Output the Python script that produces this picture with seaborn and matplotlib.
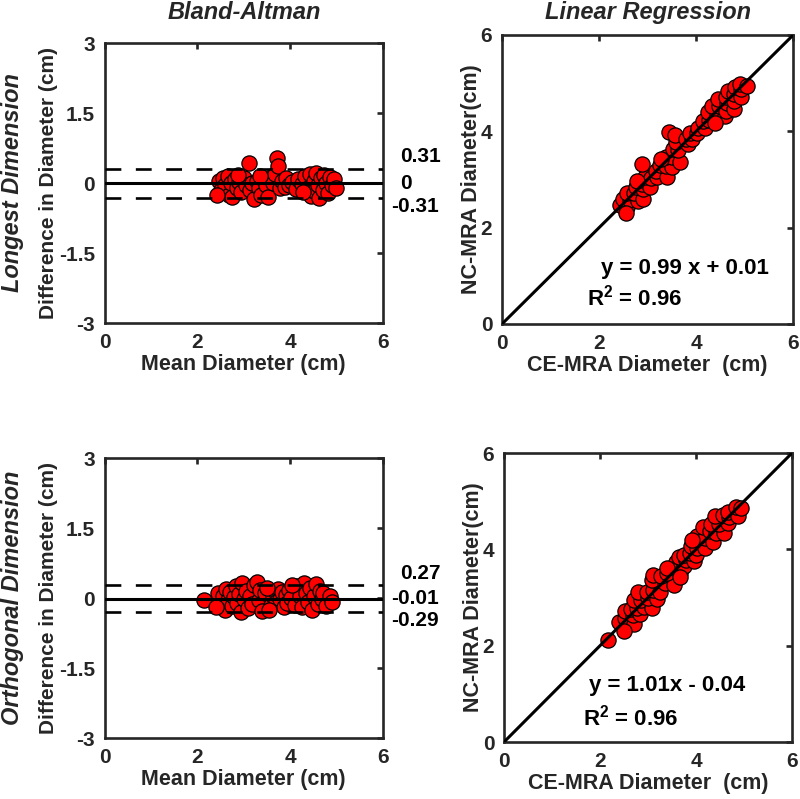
import numpy as np
import pandas as pd
import matplotlib
matplotlib.use("Agg")
import matplotlib.pyplot as plt
import seaborn as sns

# values (cm)
ce_long = [2.43, 2.58, 2.50, 2.63, 2.58, 2.81, 2.72, 2.90, 2.76, 2.90,
           2.89, 3.05, 2.95, 3.08, 2.89, 3.20, 3.18, 3.40, 3.26, 3.37,
           3.50, 3.38, 3.51, 3.67, 3.52, 3.62, 3.58, 3.45, 3.56, 3.83,
           3.80, 3.92, 3.87, 4.01, 4.04, 4.18, 4.14, 4.26, 4.25, 4.43,
           4.32, 4.59, 4.48, 4.61, 4.45, 4.63, 4.78, 4.61, 4.78, 4.65,
           4.78, 4.93, 4.80, 4.93, 4.91, 5.05, 2.55, 2.79, 3.28, 4.38]
nc_long = [2.48, 2.43, 2.60, 2.58, 2.73, 2.56, 2.72, 2.60, 2.84, 2.80,
           2.91, 2.85, 3.05, 3.03, 3.32, 3.05, 3.18, 3.05, 3.31, 3.27,
           3.25, 3.46, 3.46, 3.37, 3.64, 3.62, 3.78, 3.99, 3.93, 3.73,
           3.85, 3.84, 3.97, 3.96, 4.06, 4.06, 4.22, 4.24, 4.40, 4.33,
           4.52, 4.31, 4.53, 4.43, 4.67, 4.58, 4.46, 4.71, 4.63, 4.83,
           4.78, 4.71, 4.92, 4.88, 4.99, 4.95, 2.30, 2.97, 3.43, 4.18]

ce_orth = [2.17, 2.40, 2.56, 2.53, 2.71, 2.52, 2.69, 2.64, 2.83, 2.77,
           2.70, 2.91, 2.86, 3.08, 2.80, 3.01, 2.97, 3.19, 3.10, 3.24,
           3.08, 3.11, 3.35, 3.27, 3.54, 3.40, 3.66, 3.60, 3.59, 3.74,
           3.64, 3.79, 3.76, 3.96, 3.87, 3.99, 3.89, 4.02, 4.18, 4.03,
           4.18, 4.35, 4.14, 4.29, 4.42, 4.31, 4.59, 4.48, 4.40, 4.66,
           4.57, 4.69, 4.67, 4.87, 4.83, 4.94, 2.50, 3.39, 3.67, 3.91]
nc_orth = [2.12, 2.50, 2.44, 2.58, 2.46, 2.72, 2.64, 2.76, 2.65, 2.79,
           2.95, 2.81, 2.94, 2.78, 3.12, 2.99, 3.12, 2.97, 3.15, 3.12,
           3.36, 3.46, 3.30, 3.45, 3.26, 3.50, 3.51, 3.65, 3.74, 3.66,
           3.84, 3.77, 3.88, 3.76, 3.93, 3.89, 4.07, 4.02, 4.03, 4.28,
           4.23, 4.15, 4.46, 4.39, 4.34, 4.53, 4.34, 4.53, 4.70, 4.54,
           4.72, 4.67, 4.77, 4.69, 4.88, 4.86, 2.30, 3.61, 3.42, 4.19]

# bias and limits of agreement shown beside the Bland-Altman panels
loa_long = [0.31, 0, -0.31]
loa_orth = [0.27, -0.01, -0.29]
loa_long_text = ["0.31", "0", "-0.31"]
loa_orth_text = ["0.27", "-0.01", "-0.29"]

fit_long = "y = 0.99 x + 0.01"
fit_orth = "y = 1.01x - 0.04"
r2_long = "R$^2$ = 0.96"
r2_orth = "R$^2$ = 0.96"

row_names = ["Longest Dimension", "Orthogonal Dimension"]
col_titles = ["Bland-Altman", "Linear Regression"]

sns.set_theme(style="white")
plt.rcParams['font.family'] = ['Liberation Sans', 'DejaVu Sans']
plt.rcParams['mathtext.fontset'] = 'custom'
plt.rcParams['mathtext.bf'] = 'Liberation Sans:bold'
plt.rcParams['mathtext.rm'] = 'Liberation Sans:bold'
plt.rcParams['mathtext.default'] = 'bf'

GRAY = '#262626'
fig = plt.figure(figsize=(8, 7.99), dpi=100)

ax_pos = {
    'ba_long': [0.131, 0.5957, 0.3475, 0.3504],
    'lr_long': [0.6275, 0.5945, 0.364, 0.3617],
    'ba_orth': [0.131, 0.0763, 0.3475, 0.3504],
    'lr_orth': [0.630, 0.0713, 0.360, 0.3617],
}


def style_axes(ax):
    for sp in ax.spines.values():
        sp.set_visible(True)
        sp.set_linewidth(1.9)
        sp.set_color(GRAY)
    ax.tick_params(direction='in', length=4, width=1.9, color=GRAY,
                   top=True, right=True, labelsize=15, labelcolor=GRAY, pad=7)
    for lab in ax.get_xticklabels() + ax.get_yticklabels():
        lab.set_fontweight('bold')


def bland_altman(ax, ce, nc, loa, loa_text):
    df = pd.DataFrame({'ce': ce, 'nc': nc})
    df['mean'] = (df['ce'] + df['nc']) / 2
    df['diff'] = df['nc'] - df['ce']
    sns.scatterplot(data=df, x='mean', y='diff', ax=ax, s=120, color='#ff0000',
                    edgecolor='black', linewidth=0.9, zorder=2)
    ax.axhline(loa[0], color='black', lw=1.9, ls=(0, (6, 5.5)), zorder=3)
    ax.axhline(loa[1], color='black', lw=2.2, zorder=3)
    ax.axhline(loa[2], color='black', lw=1.9, ls=(0, (6, 5.5)), zorder=3)
    ax.set_xlim(0, 6)
    ax.set_ylim(-3, 3)
    ax.set_xticks([0, 2, 4, 6])
    ax.set_yticks([-3, -1.5, 0, 1.5, 3])
    ax.set_yticklabels(['-3', '-1.5', '0', '1.5', '3'])
    ax.set_xlabel('Mean Diameter (cm)', fontsize=15.5, fontweight='bold', color=GRAY)
    ax.set_ylabel('Difference in Diameter (cm)', fontsize=15, fontweight='bold', color=GRAY)
    ax.yaxis.set_label_coords(-0.17, 0.5)
    ax.xaxis.set_label_coords(0.5, -0.11)
    # labels stacked just right of the axes, nudged apart so they don't overlap
    offs = [0.25, 0.0, -0.2]
    for v, t, o in zip(loa, loa_text, offs):
        x = 6.19 if t.startswith('-') else 6.37
        ax.text(x, v + o, t, fontsize=15, fontweight='bold', color='black',
                ha='left', va='center', clip_on=False)
    style_axes(ax)


def regression(ax, ce, nc, fit, r2, fit_xy, r2_xy):
    df = pd.DataFrame({'ce': ce, 'nc': nc})
    sns.scatterplot(data=df, x='ce', y='nc', ax=ax, s=120, color='#ff0000',
                    edgecolor='black', linewidth=0.9, zorder=2)
    ax.axline((0, 0), slope=1, color='black', lw=2.2, zorder=3)
    ax.set_xlim(0, 6)
    ax.set_ylim(0, 6)
    ax.set_xticks([0, 2, 4, 6])
    ax.set_yticks([0, 2, 4, 6])
    ax.set_xlabel('CE-MRA Diameter  (cm)', fontsize=15.5, fontweight='bold', color=GRAY)
    ax.set_ylabel('NC-MRA Diameter(cm)', fontsize=15.5, fontweight='bold', color=GRAY)
    ax.yaxis.set_label_coords(-0.07, 0.5)
    ax.xaxis.set_label_coords(0.5, -0.107)
    ax.text(fit_xy[0], fit_xy[1], fit, fontsize=16, fontweight='bold',
            color='black', ha='left', va='center')
    ax.text(r2_xy[0], r2_xy[1], r2, fontsize=16, fontweight='bold',
            color='black', ha='left', va='center')
    style_axes(ax)


ax1 = fig.add_axes(ax_pos['ba_long'])
ax2 = fig.add_axes(ax_pos['lr_long'])
ax3 = fig.add_axes(ax_pos['ba_orth'])
ax4 = fig.add_axes(ax_pos['lr_orth'])

bland_altman(ax1, ce_long, nc_long, loa_long, loa_long_text)
bland_altman(ax3, ce_orth, nc_orth, loa_orth, loa_orth_text)
regression(ax2, ce_long, nc_long, fit_long, r2_long, (2.03, 1.16), (1.76, 0.54))
regression(ax4, ce_orth, nc_orth, fit_orth, r2_orth, (1.78, 1.18), (1.64, 0.50))

# column titles above both panels, at the same height
fig.text(0.131 + 0.3475 / 2, 0.984, col_titles[0], fontsize=17, fontweight='bold',
         style='italic', ha='center', va='center')
fig.text(0.6275 + 0.364 / 2, 0.984, col_titles[1], fontsize=17, fontweight='bold',
         style='italic', ha='center', va='center')

fig.text(0.016, 0.771, row_names[0], rotation=90, fontsize=17, fontweight='bold',
         style='italic', ha='center', va='center')
fig.text(0.016, 0.2516, row_names[1], rotation=90, fontsize=17, fontweight='bold',
         style='italic', ha='center', va='center')

fig.savefig('out.png', dpi=100)
